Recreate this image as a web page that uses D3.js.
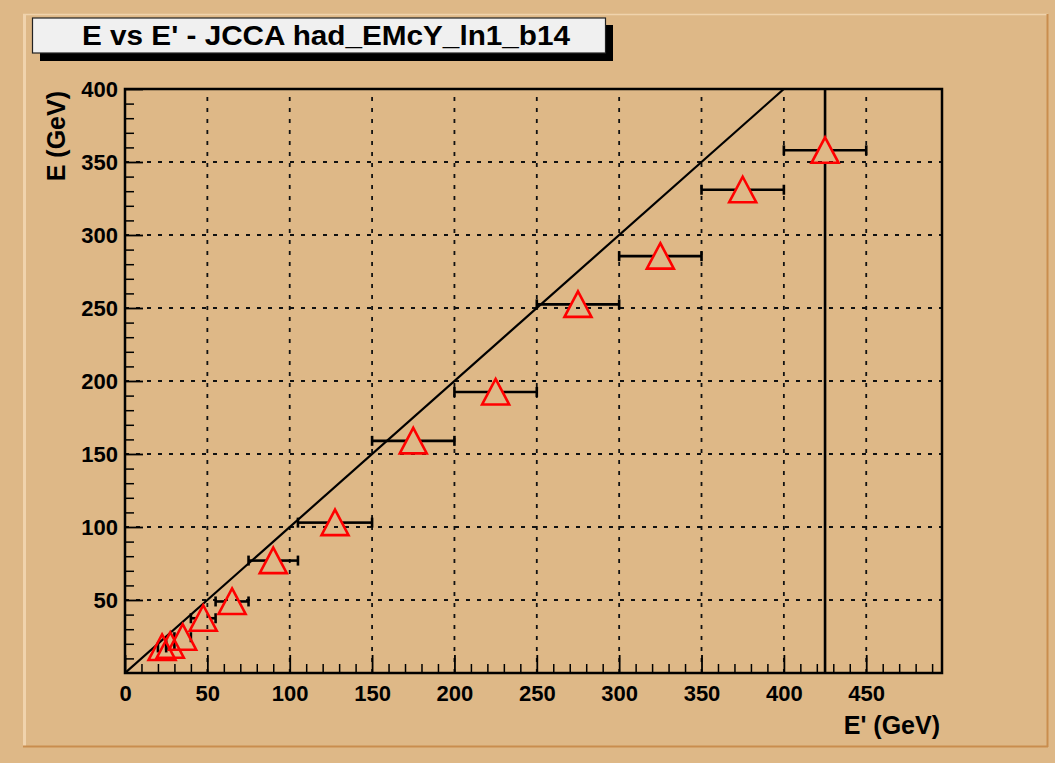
<!DOCTYPE html>
<html><head><meta charset="utf-8">
<script src="https://cdn.jsdelivr.net/npm/d3@7"></script>
<style>body{margin:0;background:#deb887}svg{display:block}</style>
</head><body>
<svg id="c" width="1055" height="763"></svg>
<script>
// ---- data ----
const chartTitle = "E vs E' - JCCA had_EMcY_ln1_b14";
const xTitle = "E' (GeV)";
const yTitle = "E (GeV)";
const xValues = [22.5, 27.5, 35, 47.5, 65, 90, 127.5, 175, 225, 275, 325, 375, 425];
const xLow    = [20, 25, 30, 40, 55, 75, 105, 150, 200, 250, 300, 350, 400];
const xHigh   = [25, 30, 40, 55, 75, 105, 150, 200, 250, 300, 350, 400, 450];
const yValues = [17.5, 19, 24.5, 37.5, 49, 77, 103, 159, 192.5, 252.5, 285.5, 331, 358];
const yErr    = [0, 0, 0, 0, 0, 0, 0, 0, 0, 0, 0, 0, 1000];
const refLineX = [0, 400];           // y = x reference line
const xTickValues = [0, 50, 100, 150, 200, 250, 300, 350, 400, 450];
const yTickValues = [50, 100, 150, 200, 250, 300, 350, 400];
const xDomain = [0, 496];
const yDomain = [0, 400];

// ---- layout ----
const W = 1055, H = 763;
const L = 125, R = 942, T = 89, B = 673;
const bg = "#deb887";
const svg = d3.select("#c");
const font = "'Liberation Sans', Arial, Helvetica, sans-serif";

svg.append("rect").attr("width", W).attr("height", H).attr("fill", bg);
// pad bevel border
svg.append("line").attr("x1", 24.5).attr("x2", 24.5).attr("y1", 14).attr("y2", 747).attr("stroke", "#f0d3ad").attr("stroke-width", 3);
svg.append("line").attr("x1", 23).attr("x2", 1048).attr("y1", 14.5).attr("y2", 14.5).attr("stroke", "#f0d3ad").attr("stroke-width", 1.5);
svg.append("line").attr("x1", 23).attr("x2", 1048).attr("y1", 746.5).attr("y2", 746.5).attr("stroke", "#c98d4e").attr("stroke-width", 2);
svg.append("line").attr("x1", 1047.5).attr("x2", 1047.5).attr("y1", 14).attr("y2", 747).attr("stroke", "#c98d4e").attr("stroke-width", 2);

const x = d3.scaleLinear().domain(xDomain).range([L, R]);
const y = d3.scaleLinear().domain(yDomain).range([B, T]);

svg.append("defs").append("clipPath").attr("id", "clip")
  .append("rect").attr("x", L).attr("y", T).attr("width", R - L).attr("height", B - T);

// grid
const grid = svg.append("g").attr("stroke", "#111").attr("stroke-width", 1.8).attr("stroke-dasharray", "4,7");
grid.selectAll(".gx").data(xTickValues.filter(v => v > 0)).join("line")
  .attr("x1", d => x(d)).attr("x2", d => x(d)).attr("y1", B).attr("y2", T);
grid.selectAll(".gy").data(yTickValues.filter(v => v < 400)).join("line")
  .attr("y1", d => y(d)).attr("y2", d => y(d)).attr("x1", L).attr("x2", R);

// minor ticks
const minorX = d3.range(0, 500, 10).filter(v => v % 50 !== 0 && v <= xDomain[1]);
const minorY = d3.range(10, 400, 10).filter(v => v % 50 !== 0);
svg.append("g").attr("transform", `translate(0,${B})`)
  .call(d3.axisBottom(x).tickValues(minorX).tickSizeInner(-9).tickSizeOuter(0).tickFormat(""))
  .call(g => g.select(".domain").remove())
  .call(g => g.selectAll("line").attr("stroke-width", 1.5));
svg.append("g").attr("transform", `translate(${L},0)`)
  .call(d3.axisLeft(y).tickValues(minorY).tickSizeInner(-9).tickSizeOuter(0).tickFormat(""))
  .call(g => g.select(".domain").remove())
  .call(g => g.selectAll("line").attr("stroke-width", 1.5));

// major axes
const xAxis = svg.append("g").attr("transform", `translate(0,${B})`)
  .call(d3.axisBottom(x).tickValues(xTickValues).tickSizeInner(-18).tickSizeOuter(0).tickPadding(12).tickFormat(d3.format("d")))
  .call(g => g.select(".domain").remove());
xAxis.selectAll("line").attr("stroke-width", 1.8);
xAxis.selectAll("text").attr("font-family", font).attr("font-weight", "bold").attr("font-size", 22).attr("fill", "#000");

const yAxis = svg.append("g").attr("transform", `translate(${L},0)`)
  .call(d3.axisLeft(y).tickValues(yTickValues).tickSizeInner(-18).tickSizeOuter(0).tickPadding(7).tickFormat(d3.format("d")))
  .call(g => g.select(".domain").remove());
yAxis.selectAll("line").attr("stroke-width", 1.8);
yAxis.selectAll("text").attr("font-family", font).attr("font-weight", "bold").attr("font-size", 22).attr("fill", "#000");

// frame
svg.append("rect").attr("x", L).attr("y", T).attr("width", R - L).attr("height", B - T)
  .attr("fill", "none").attr("stroke", "#000").attr("stroke-width", 2.5);

// reference line y = x
const plot = svg.append("g").attr("clip-path", "url(#clip)");
plot.append("line")
  .attr("x1", x(refLineX[0])).attr("y1", y(refLineX[0]))
  .attr("x2", x(refLineX[1])).attr("y2", y(refLineX[1]))
  .attr("stroke", "#000").attr("stroke-width", 2.2);

// error bars (with gap around the marker)
const pts = xValues.map((v, i) => ({x: v, y: yValues[i], lo: xLow[i], hi: xHigh[i], ey: yErr[i]}));
const gapX = 7, gapY = 13, cap = 5;
const eb = plot.append("g").attr("stroke", "#000").attr("stroke-width", 2.6);
pts.forEach(p => {
  const cx = x(p.x), cy = y(p.y);
  if (x(p.lo) < cx - gapX) eb.append("line").attr("x1", x(p.lo)).attr("x2", cx - gapX).attr("y1", cy).attr("y2", cy);
  if (x(p.hi) > cx + gapX) eb.append("line").attr("x1", cx + gapX).attr("x2", x(p.hi)).attr("y1", cy).attr("y2", cy);
  [p.lo, p.hi].forEach(e => eb.append("line").attr("x1", x(e)).attr("x2", x(e)).attr("y1", cy - cap).attr("y2", cy + cap));
  if (p.ey > 0) {
    eb.append("line").attr("x1", cx).attr("x2", cx).attr("y1", cy - gapY).attr("y2", y(p.y + p.ey));
    eb.append("line").attr("x1", cx).attr("x2", cx).attr("y1", cy + gapY).attr("y2", y(p.y - p.ey));
  }
});

// open triangle markers
svg.append("g").selectAll("path").data(pts).join("path")
  .attr("d", "M0,-13L13.5,12.5L-13.5,12.5Z")
  .attr("transform", d => `translate(${x(d.x)},${y(d.y)})`)
  .attr("fill", "none").attr("stroke", "#ff0000").attr("stroke-width", 2.6).attr("stroke-linejoin", "miter");

// axis titles
svg.append("text").attr("x", 940).attr("y", 734).attr("text-anchor", "end")
  .attr("font-family", font).attr("font-weight", "bold").attr("font-size", 25).text(xTitle);
svg.append("text").attr("transform", "translate(65,91) rotate(-90)").attr("text-anchor", "end")
  .attr("font-family", font).attr("font-weight", "bold").attr("font-size", 25).text(yTitle);

// title box with shadow
svg.append("rect").attr("x", 40).attr("y", 25).attr("width", 573).attr("height", 36).attr("fill", "#000");
svg.append("rect").attr("x", 32.5).attr("y", 18).attr("width", 573).attr("height", 35)
  .attr("fill", "#f0f0f0").attr("stroke", "#222").attr("stroke-width", 1.2);
svg.append("text").attr("x", 82).attr("y", 44.5)
  .attr("textLength", 488).attr("lengthAdjust", "spacingAndGlyphs")
  .attr("font-family", font).attr("font-weight", "bold").attr("font-size", 27).text(chartTitle);
</script>
</body></html>
